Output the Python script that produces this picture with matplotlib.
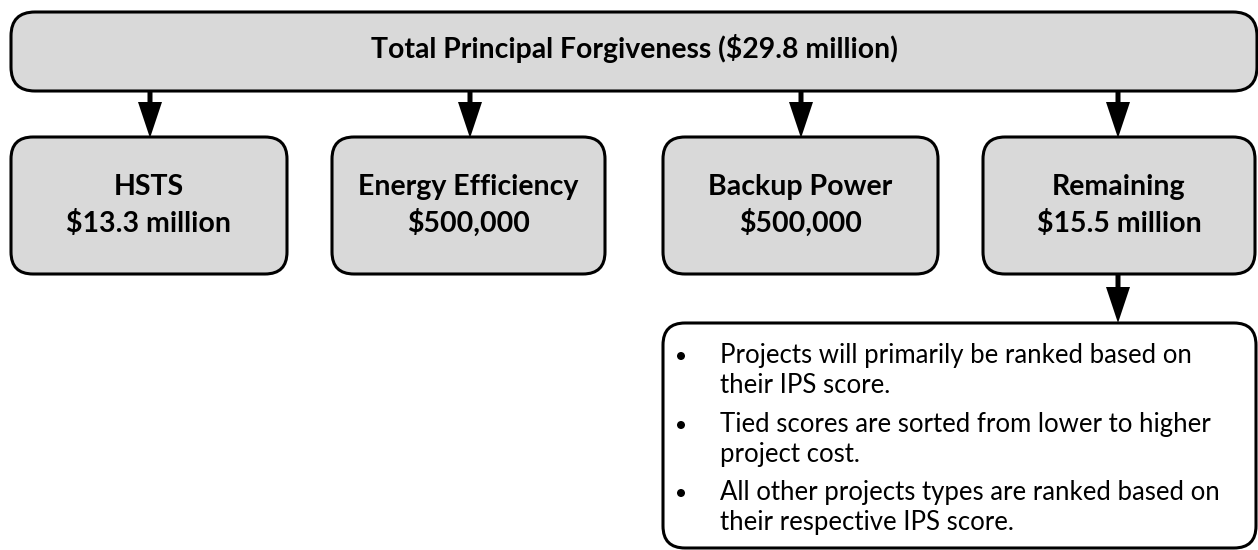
import matplotlib
matplotlib.use("Agg")
import matplotlib.pyplot as plt
from matplotlib.patches import FancyBboxPatch, FancyArrow, Circle

# ---- data ----
title_label = "Total Principal Forgiveness ($29.8 million)"
categories = ["HSTS", "Energy Efficiency", "Backup Power", "Remaining"]
amounts = ["$13.3 million", "$500,000", "$500,000", "$15.5 million"]
bullets = [
    "Projects will primarily be ranked based on\ntheir IPS score.",
    "Tied scores are sorted from lower to higher\nproject cost.",
    "All other projects types are ranked based on\ntheir respective IPS score.",
]

FONT = ["Lato", "DejaVu Sans"]
FILL = "#d9d9d9"
W, H = 1258, 550

fig = plt.figure(figsize=(W / 100, H / 100), dpi=100)
ax = fig.add_axes([0, 0, 1, 1])
ax.set_xlim(0, W)
ax.set_ylim(H, 0)
ax.axis("off")


def rbox(x0, y0, x1, y1, fc, r=22):
    p = FancyBboxPatch((x0, y0), x1 - x0, y1 - y0,
                       boxstyle=f"round,pad=0,rounding_size={r}",
                       fc=fc, ec="black", lw=2.2, zorder=2)
    ax.add_patch(p)


def arrow(x, y0, y1):
    a = FancyArrow(x, y0, 0, y1 - y0, width=5, head_width=24, head_length=36,
                   length_includes_head=True, fc="black", ec="black", lw=0, zorder=3)
    ax.add_patch(a)


# top box
rbox(11, 12, 1257, 91, FILL, r=24)
ax.text(634, 58, title_label, ha="center", va="baseline", fontsize=20.4,
        fontweight="bold", family=FONT, zorder=4)

boxes = [(11, 287), (332, 605), (663, 938), (983, 1255)]
arrow_x = [150, 470, 801, 1118]
for (x0, x1), ax_x, cat, amt in zip(boxes, arrow_x, categories, amounts):
    rbox(x0, 137, x1, 274, FILL)
    arrow(ax_x, 91, 138)
    cx = (x0 + x1) / 2
    ax.text(cx, 195, cat, ha="center", va="baseline", fontsize=20.5,
            fontweight="bold", family=FONT, zorder=4)
    ax.text(cx, 232, amt, ha="center", va="baseline", fontsize=20.5,
            fontweight="bold", family=FONT, zorder=4)

# bullet box
arrow(1118, 275, 323)
rbox(663, 323, 1256, 548, "white")
first_baselines = [363, 432, 500]
for y, b in zip(first_baselines, bullets):
    ax.add_patch(Circle((681, y - 7), 4, fc="black", ec="none", zorder=4))
    for i, line in enumerate(b.split("\n")):
        ax.text(720, y + 30 * i, line, ha="left", va="baseline", fontsize=18.5,
                family=FONT, zorder=4)

fig.savefig("out.png", dpi=100)
